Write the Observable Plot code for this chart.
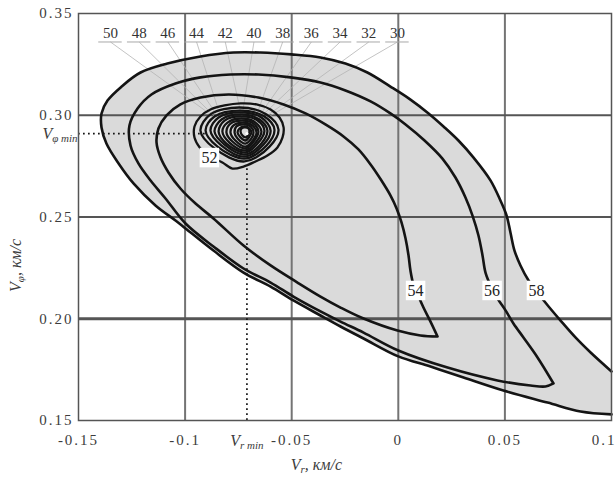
<!DOCTYPE html>
<html><head><meta charset="utf-8">
<script src="https://cdn.jsdelivr.net/npm/d3@7"></script>
<script src="https://cdn.jsdelivr.net/npm/@observablehq/plot@0.6"></script>
<style>html,body{margin:0;padding:0;background:#fff;overflow:hidden}</style>
</head><body><div id="chart"></div>
<script>
// ---- data ----
const xTicks = [-0.15, -0.1, -0.05, 0, 0.05];
const xLastTick = [0.1];
const yTicks = [0.15, 0.20, 0.25, 0.30, 0.35];
const vrMin = -0.071, vphiMin = 0.291;

// large contours (open paths; 58 leaves the frame on the right)
const c58 = [[0.1,0.1741],[0.0902,0.1834],[0.0831,0.1908],[0.0761,0.1991],[0.0705,0.2060],[0.0653,0.2129],[0.0611,0.2188],[0.0573,0.2262],[0.0545,0.2335],[0.0526,0.2424],[0.0508,0.2507],[0.0479,0.2581],[0.0433,0.2679],[0.0353,0.2792],[0.0282,0.2876],[0.0212,0.2945],[0.0142,0.3009],[0.0057,0.3077],[-0.0037,0.3141],[-0.0145,0.3210],[-0.0248,0.3254],[-0.0365,0.3284],[-0.0501,0.3299],[-0.0646,0.3308],[-0.0773,0.3308],[-0.0928,0.3289],[-0.1083,0.3254],[-0.1209,0.3210],[-0.1298,0.3141],[-0.1364,0.3072],[-0.1392,0.3009],[-0.1392,0.2940],[-0.1369,0.2861],[-0.1312,0.2763],[-0.1242,0.2665],[-0.1139,0.2557],[-0.1045,0.2483],[-0.0998,0.2444],[-0.0867,0.2335],[-0.0726,0.2227],[-0.0599,0.2158],[-0.0492,0.2090],[-0.0365,0.2016],[-0.0271,0.1962],[-0.0163,0.1903],[0.0000,0.1815],[0.0151,0.1765],[0.0306,0.1711],[0.0493,0.1647],[0.0700,0.1588],[0.0855,0.1544],[0.1,0.1530]];
const c56 = [[0.0728,0.1682],[0.0653,0.1810],[0.0587,0.1908],[0.0540,0.1977],[0.0503,0.2041],[0.0465,0.2100],[0.0433,0.2163],[0.0409,0.2227],[0.0395,0.2311],[0.0376,0.2409],[0.0348,0.2507],[0.0315,0.2596],[0.0268,0.2694],[0.0207,0.2787],[0.0123,0.2876],[0.0034,0.2955],[-0.0037,0.3009],[-0.0130,0.3068],[-0.0248,0.3122],[-0.0365,0.3161],[-0.0506,0.3186],[-0.0656,0.3200],[-0.0787,0.3200],[-0.0928,0.3186],[-0.1045,0.3156],[-0.1158,0.3102],[-0.1223,0.3033],[-0.1261,0.2950],[-0.1256,0.2851],[-0.1219,0.2763],[-0.1162,0.2679],[-0.1092,0.2591],[-0.0998,0.2468],[-0.0867,0.2355],[-0.0726,0.2247],[-0.0599,0.2178],[-0.0492,0.2109],[-0.0365,0.2036],[-0.0271,0.1986],[-0.0163,0.1932],[0.0000,0.1844],[0.0231,0.1760],[0.0465,0.1697],[0.0620,0.1672],[0.0690,0.1667],[0.0728,0.1682]];
const c54 = [[0.0184,0.1913],[0.0151,0.1986],[0.0118,0.2055],[0.0095,0.2109],[0.0071,0.2168],[0.0057,0.2237],[0.0048,0.2311],[0.0034,0.2394],[0.0015,0.2473],[-0.0008,0.2542],[-0.0037,0.2606],[-0.0079,0.2679],[-0.0130,0.2758],[-0.0187,0.2832],[-0.0257,0.2896],[-0.0342,0.2955],[-0.0435,0.3009],[-0.0538,0.3053],[-0.0656,0.3087],[-0.0796,0.3102],[-0.0928,0.3087],[-0.1022,0.3053],[-0.1087,0.2999],[-0.1125,0.2935],[-0.1134,0.2866],[-0.1115,0.2792],[-0.1078,0.2719],[-0.1022,0.2640],[-0.0951,0.2566],[-0.0867,0.2493],[-0.0726,0.2360],[-0.0599,0.2262],[-0.0473,0.2178],[-0.0365,0.2109],[-0.0271,0.2055],[-0.0163,0.2001],[-0.0004,0.1942],[0.0104,0.1918],[0.0184,0.1913]];

// small closed contours around the minimum
const c52 = [[-0.0825,0.2768],[-0.0778,0.2738],[-0.0726,0.2748],[-0.0670,0.2773],[-0.0614,0.2802],[-0.0567,0.2842],[-0.0543,0.2891],[-0.0538,0.2940],[-0.0557,0.2989],[-0.0599,0.3028],[-0.0665,0.3053],[-0.0740,0.3058],[-0.0815,0.3048],[-0.0881,0.3028],[-0.0928,0.2994],[-0.0956,0.2945],[-0.0956,0.2891],[-0.0932,0.2842],[-0.0895,0.2802]];
const c50 = [[-0.0745,0.3038],[-0.0618,0.3004],[-0.0562,0.2930],[-0.0604,0.2846],[-0.0721,0.2773],[-0.0862,0.2837],[-0.0928,0.2925],[-0.0881,0.3004]];
const c48 = [[-0.0740,0.3023],[-0.0628,0.2994],[-0.0581,0.2930],[-0.0618,0.2851],[-0.0721,0.2787],[-0.0848,0.2846],[-0.0904,0.2925],[-0.0862,0.2994]];
const c46 = [[-0.0740,0.3014],[-0.0642,0.2989],[-0.0599,0.2925],[-0.0632,0.2856],[-0.0721,0.2797],[-0.0829,0.2851],[-0.0881,0.2925],[-0.0843,0.2989]];
const c44 = [[-0.0740,0.3004],[-0.0651,0.2979],[-0.0614,0.2925],[-0.0642,0.2861],[-0.0721,0.2807],[-0.0815,0.2856],[-0.0862,0.2920],[-0.0829,0.2979]];
const c42 = [[-0.0735,0.2994],[-0.0660,0.2974],[-0.0628,0.2925],[-0.0656,0.2866],[-0.0717,0.2817],[-0.0806,0.2861],[-0.0843,0.2920],[-0.0815,0.2974]];
const c40 = [[-0.0735,0.2984],[-0.0670,0.2964],[-0.0642,0.2920],[-0.0665,0.2871],[-0.0717,0.2827],[-0.0792,0.2866],[-0.0825,0.2920],[-0.0801,0.2964]];
const c38 = [[-0.0731,0.2974],[-0.0679,0.2959],[-0.0656,0.2920],[-0.0675,0.2876],[-0.0717,0.2837],[-0.0778,0.2871],[-0.0806,0.2915],[-0.0787,0.2959]];
const c36 = [[-0.0726,0.2964],[-0.0684,0.2950],[-0.0665,0.2915],[-0.0679,0.2881],[-0.0717,0.2846],[-0.0764,0.2876],[-0.0787,0.2915],[-0.0773,0.2950]];
const c34 = [[-0.0726,0.2955],[-0.0693,0.2945],[-0.0679,0.2915],[-0.0689,0.2886],[-0.0717,0.2861],[-0.0754,0.2886],[-0.0768,0.2915],[-0.0759,0.2945]];
const c32 = [[-0.0721,0.2945],[-0.0698,0.2935],[-0.0689,0.2915],[-0.0698,0.2896],[-0.0717,0.2876],[-0.0740,0.2891],[-0.0754,0.2915],[-0.0745,0.2935]];
const c30 = [[-0.0721,0.2940],[-0.0703,0.2935],[-0.0698,0.2920],[-0.0703,0.2905],[-0.0717,0.2891],[-0.0731,0.2900],[-0.0740,0.2920],[-0.0735,0.2935]];

const topLevels = [50, 48, 46, 44, 42, 40, 38, 36, 34, 32, 30];
const contourLabels = [
  {level: 52, x: -0.0886, y: 0.2792},
  {level: 54, x: 0.0081, y: 0.2139},
  {level: 56, x: 0.0440, y: 0.2139},
  {level: 58, x: 0.0648, y: 0.2139}
];

// ---- build tables ----
const toPts = (level, a) => a.map(([x, y]) => ({level, x, y}));
const big = [...toPts(54, c54), ...toPts(56, c56), ...toPts(58, c58)];
const ringMap = new Map([[52,c52],[50,c50],[48,c48],[46,c46],[44,c44],[42,c42],[40,c40],[38,c38],[36,c36],[34,c34],[32,c32],[30,c30]]);
const rings = [...ringMap].flatMap(([l, a]) => toPts(l, a));

const labelY = 0.3402, underY = 0.3360;
const topLabels = topLevels.map((level, i) => ({level, x: -0.135 + i * 0.01346}));
const leaders = topLabels.map(d => {
  const pts = ringMap.get(d.level);
  let best = pts[0], bd = Infinity;
  for (const p of pts) {
    const dd = ((p[0] - d.x) * 2132) ** 2 + ((p[1] - underY) * 2035) ** 2;
    if (dd < bd) { bd = dd; best = p; }
  }
  return {x1: d.x, y1: underY, x2: best[0], y2: best[1]};
});

const serif = "'Liberation Serif', 'DejaVu Serif', serif";
const ink = "#141414";
const txt = "#3c3c3c";
const xFmt = d => String(d);
const yFmt = d => d.toFixed(2);

const chart = Plot.plot({
  width: 615, height: 477,
  marginLeft: 78, marginRight: 4, marginTop: 13, marginBottom: 57,
  x: {domain: [-0.15, 0.1], axis: null},
  y: {domain: [0.15, 0.35], axis: null},
  style: {fontFamily: serif, fontSize: "15px", background: "#fff", overflow: "visible"},
  marks: [
    Plot.line(toPts(58, c58), {x: "x", y: "y", fill: "#dadada", stroke: "none", curve: "catmull-rom"}),
    Plot.ruleX([-0.1, -0.05, 0, 0.05], {stroke: "#747474", strokeWidth: 2}),
    Plot.ruleY([0.25, 0.30], {stroke: "#555", strokeWidth: 2}),
    Plot.ruleY([0.20], {stroke: "#555", strokeWidth: 3}),
    Plot.link(leaders, {x1: "x1", y1: "y1", x2: "x2", y2: "y2", stroke: "#b4b4b4", strokeWidth: 0.8}),
    Plot.ruleY(topLabels, {y: underY, x1: d => d.x - 0.0055, x2: d => d.x + 0.0055, stroke: "#a8a8a8", strokeWidth: 1}),
    Plot.ruleY([vphiMin], {x1: -0.15, x2: -0.09, stroke: ink, strokeWidth: 1.7, strokeDasharray: "1.7,3.3"}),
    Plot.ruleX([vrMin], {y1: 0.15, y2: 0.274, stroke: ink, strokeWidth: 1.7, strokeDasharray: "1.7,3.3"}),
    Plot.line(big, {x: "x", y: "y", z: "level", stroke: ink, strokeWidth: 2.6, curve: "catmull-rom"}),
    Plot.line(rings, {x: "x", y: "y", z: "level", stroke: ink, strokeWidth: 2.3, curve: "catmull-rom-closed"}),
    Plot.dot([{x: vrMin, y: vphiMin}], {x: "x", y: "y", r: 1.6, fill: "#fff", stroke: "none"}),
    Plot.dot(contourLabels, {x: "x", y: "y", symbol: "square", r: 11, fill: "#fff", stroke: "none"}),
    Plot.text(contourLabels, {x: "x", y: "y", text: d => String(d.level), fontSize: 16, fill: "#222"}),
    Plot.text(topLabels, {x: "x", y: labelY, text: d => String(d.level), fontSize: 15, fill: "#333"}),
    Plot.frame({stroke: "#555", strokeWidth: 1.5}),
    // tick labels
    Plot.text(xTicks, {x: d => d, frameAnchor: "bottom", lineAnchor: "middle", dy: 20, text: xFmt, fill: txt, fontSize: 15}),
    Plot.text(xLastTick, {x: d => d, frameAnchor: "bottom", lineAnchor: "middle", dy: 20, dx: 5, textAnchor: "end", text: xFmt, fill: txt, fontSize: 15}),
    Plot.text(yTicks, {y: d => d, frameAnchor: "left", lineAnchor: "middle", dx: -5, textAnchor: "end", text: yFmt, fill: txt, fontSize: 15}),
    Plot.text([vrMin], {x: d => d, frameAnchor: "bottom", lineAnchor: "middle", textAnchor: "middle", dy: 20, text: () => "V_{r min}", fill: txt, fontSize: 16}),
    Plot.text([vphiMin], {y: d => d, frameAnchor: "left", lineAnchor: "middle", dx: -1, textAnchor: "end", text: () => "V_{φ min}", fill: txt, fontSize: 16}),
    // axis titles
    Plot.text([-0.0384], {x: d => d, frameAnchor: "bottom", lineAnchor: "middle", textAnchor: "middle", dy: 44, text: () => "V_{r}, км/с", fill: txt, fontSize: 16}),
    Plot.text([0.2262], {y: d => d, frameAnchor: "left", lineAnchor: "middle", textAnchor: "middle", dx: -63, rotate: -90, text: () => "V_{φ}, км/с", fill: txt, fontSize: 16})
  ]
});

// tick labels in the source are widely spaced
const tickStrings = new Set([...xTicks, ...xLastTick].map(xFmt).concat(yTicks.map(yFmt)));
d3.select(chart).selectAll("text").each(function() {
  if (tickStrings.has(this.textContent)) d3.select(this).attr("letter-spacing", "2px");
});

// turn "V_{sub}rest" into V with a real subscript
d3.select(chart).selectAll("text").each(function() {
  const m = this.textContent.match(/^(.*?)_\{(.*?)\}(.*)$/);
  if (!m) return;
  const t = d3.select(this).text(null).attr("font-style", "italic");
  t.append("tspan").text(m[1]);
  t.append("tspan").attr("dy", 3).attr("font-size", 11).text(m[2]);
  if (m[3]) t.append("tspan").attr("dy", -3).text(m[3]);
});

document.getElementById("chart").appendChild(chart);
</script>
</body></html>
